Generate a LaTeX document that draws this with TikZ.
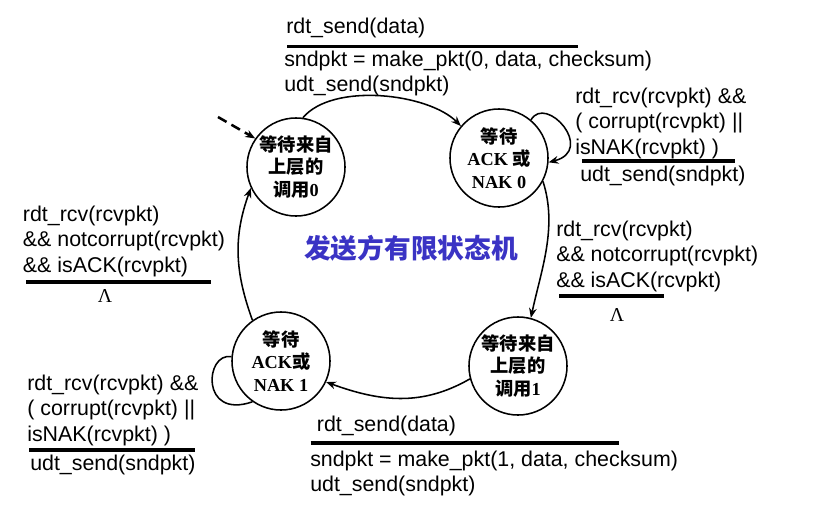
\documentclass[tikz,border=0pt]{standalone}
\usepackage{fontspec}
\setmainfont{Liberation Sans}
\newfontfamily\cjk{Noto Sans CJK SC}
\newfontfamily\tnr{Liberation Serif}
\usetikzlibrary{arrows.meta}
\definecolor{ttl}{HTML}{3A33C4}
\definecolor{ink}{HTML}{000000}

\begin{document}
\begin{tikzpicture}[
  x=0.025cm, y=0.025cm,
  >={Stealth[length=7pt,width=5.5pt]},
  state/.style={draw=ink, circle, line width=1.1pt, minimum size=2.45cm, inner sep=0pt,
    align=center, font=\cjk\bfseries\fontsize{13}{16}\selectfont},
  lbl/.style={anchor=base west, inner sep=0pt, align=left, font=\fontsize{15.2}{17.8}\selectfont},
  lam/.style={anchor=base, inner sep=0pt, font=\tnr\fontsize{14}{16}\selectfont},
  bar/.style={line width=2.7pt},
  trans/.style={->, line width=1.1pt},
]
\useasboundingbox (0,0) rectangle (823,-514);
% the four states
\node[state] (s0) at (296,-167) {等待来自\\上层的\\调用{\tnr 0}};
\node[state] (s1) at (499,-158) {等待\\{\tnr ACK} 或\\{\tnr NAK 0}};
\node[state] (s2) at (281,-361) {等待\\{\tnr ACK}或\\{\tnr NAK 1}};
\node[state] (s3) at (518,-366) {等待来自\\上层的\\调用{\tnr 1}};
\node[font=\cjk\bfseries\fontsize{19}{22}\selectfont, text=ttl] (title) at (411,-248) {发送方有限状态机};
% initial state
\coordinate (init) at (218,-117);
\draw[->, line width=1.8pt, dash pattern=on 7pt off 4pt] (init) -- (s0.145);
% transitions
\draw[trans] (s0.82) to[out=50, in=135, looseness=0.75] (s1.140);
\draw[trans] (s1.50) .. controls (546,-94) and (596,-150) .. (s1.-5);
\draw[trans] (s1.-28) to[out=-72, in=78, looseness=0.9] (s3.75);
\draw[trans] (s3.195) to[out=-150, in=-20] (s2.-25);
\draw[line width=1.1pt] (s2.175) .. controls (205,-352) and (200,-420) .. (s2.235);
\draw[trans] (s2.125) to[out=110, in=-110] (s0.205);
% top: wait for call 0 (multi-line labels sit on their last baseline)
\node[lbl] (evt0) at (286,-33.5) {rdt\_send(data)};
\draw[bar] (287,-46.5) -- (578,-46.5);
\node[lbl] (act0) at (284,-91.5) {sndpkt = make\_pkt(0, data, checksum)\\udt\_send(sndpkt)};
% right top: resend 0
\node[lbl] (evt1) at (575,-154) {rdt\_rcv(rcvpkt) \&\&\\( corrupt(rcvpkt) ||\\isNAK(rcvpkt) )};
\draw[bar] (582,-161) -- (735,-161);
\node[lbl] (act1) at (580,-181) {udt\_send(sndpkt)};
% right middle: ack 0
\node[lbl] (evt2) at (556,-287) {rdt\_rcv(rcvpkt)\\\&\& notcorrupt(rcvpkt)\\\&\& isACK(rcvpkt)};
\draw[bar] (559,-296) -- (664,-296);
\node[lam] (act2) at (617,-321.7) {Λ};
% left: ack 1
\node[lbl] (evt3) at (22.7,-272) {rdt\_rcv(rcvpkt)\\\&\& notcorrupt(rcvpkt)\\\&\& isACK(rcvpkt)};
\draw[bar] (26,-282.3) -- (210.7,-282.3);
\node[lam] (act3) at (105,-302.7) {Λ};
% left bottom: resend 1
\node[lbl] (evt4) at (27,-441) {rdt\_rcv(rcvpkt) \&\&\\( corrupt(rcvpkt) ||\\isNAK(rcvpkt) )};
\draw[bar] (29,-450) -- (195,-450);
\node[lbl] (act4) at (30,-470) {udt\_send(sndpkt)};
% bottom: wait for call 1
\node[lbl] (evt5) at (316.7,-431) {rdt\_send(data)};
\draw[bar] (310.7,-442.7) -- (619,-442.7);
\node[lbl] (act5) at (310,-491.7) {sndpkt = make\_pkt(1, data, checksum)\\udt\_send(sndpkt)};
\end{tikzpicture}
\end{document}
